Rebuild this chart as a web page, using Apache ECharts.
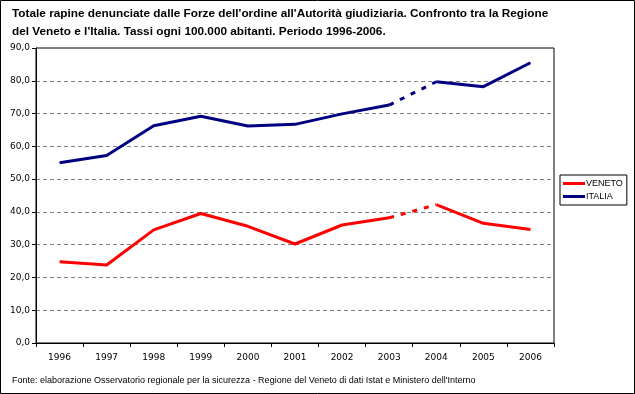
<!DOCTYPE html>
<html><head><meta charset="utf-8">
<script src="https://cdn.jsdelivr.net/npm/echarts@6/dist/echarts.min.js"></script>
<style>html,body{margin:0;padding:0;background:#fff}#c{width:635px;height:394px}</style>
</head><body><div id="c"></div>
<script>
const years = ['1996','1997','1998','1999','2000','2001','2002','2003','2004','2005','2006'];
const veneto = [24.8, 23.8, 34.5, 39.5, 35.6, 30.2, 36.0, 38.2, 42.2, 36.5, 34.6];
const italia = [55.0, 57.2, 66.3, 69.2, 66.2, 66.7, 69.9, 72.6, 79.7, 78.2, 85.5];
const gapFrom = 7; // dashed segment between 2003 and 2004

function part(arr, a, b){ return arr.map((v,i)=> (i>=a && i<=b) ? v : null); }

const chart = echarts.init(document.getElementById('c'));
const lineSolid = (name, color, data) => ({
  name, type:'line', data, symbol:'none', connectNulls:false,
  lineStyle:{color, width:3}, itemStyle:{color}, z:3
});
const lineDash = (name, color, data) => ({
  name, type:'line', data, symbol:'none', connectNulls:false,
  lineStyle:{color, width:3, type:[5,7]}, itemStyle:{color}, z:3
});
chart.setOption({
  animation:false,
  title:{
    text:"Totale rapine denunciate dalle Forze dell'ordine all'Autorità giudiziaria. Confronto tra la Regione\ndel Veneto e l'Italia. Tassi ogni 100.000 abitanti. Periodo 1996-2006.",
    left:12, top:5, padding:0,
    textStyle:{fontFamily:'Liberation Sans', fontSize:11.8, fontWeight:'bold', color:'#000', lineHeight:18}
  },
  graphic:[
    {type:'rect', shape:{x:0.5,y:0.5,width:634,height:393}, style:{fill:null, stroke:'#000', lineWidth:1}, silent:true},
    {type:'text', left:12, top:376, style:{text:"Fonte: elaborazione Osservatorio regionale per la sicurezza - Regione del Veneto di dati Istat e Ministero dell'Interno", font:'9px "Liberation Sans"', fill:'#000'}}
  ],
  legend:{
    data:['VENETO','ITALIA'], orient:'vertical', left:560, top:175,
    itemWidth:22, itemHeight:3, itemGap:4, padding:[4,4,4,3],
    borderColor:'#000', borderWidth:1,
    textStyle:{fontFamily:'Liberation Sans', fontSize:9, color:'#000', padding:[0,0,0,-4]},
    icon:'rect'
  },
  grid:{left:36, right:81, top:48, bottom:51, show:true, borderColor:'#000', borderWidth:1},
  xAxis:{
    type:'category', data:years, boundaryGap:true,
    axisLine:{lineStyle:{color:'#000'}},
    axisTick:{show:true, length:4, inside:false, lineStyle:{color:'#000'}},
    axisLabel:{fontFamily:'DejaVu Sans', fontSize:9, color:'#000', margin:10}
  },
  yAxis:{
    type:'value', min:0, max:90, interval:10,
    axisLine:{show:true, lineStyle:{color:'#000'}},
    axisTick:{show:true, length:4, lineStyle:{color:'#000'}},
    axisLabel:{fontFamily:'DejaVu Sans', fontSize:9, color:'#000', margin:6,
      formatter:v=>v.toFixed(1).replace('.',',')},
    splitLine:{show:true, lineStyle:{color:'#808080', type:[4,3]}}
  },
  series:[
    lineSolid('VENETO','#FF0000', part(veneto,0,gapFrom)),
    lineSolid('VENETO','#FF0000', part(veneto,gapFrom+1,years.length-1)),
    lineDash('VENETO','#FF0000', part(veneto,gapFrom,gapFrom+1)),
    lineSolid('ITALIA','#000080', part(italia,0,gapFrom)),
    lineSolid('ITALIA','#000080', part(italia,gapFrom+1,years.length-1)),
    lineDash('ITALIA','#000080', part(italia,gapFrom,gapFrom+1))
  ]
});
</script></body></html>
